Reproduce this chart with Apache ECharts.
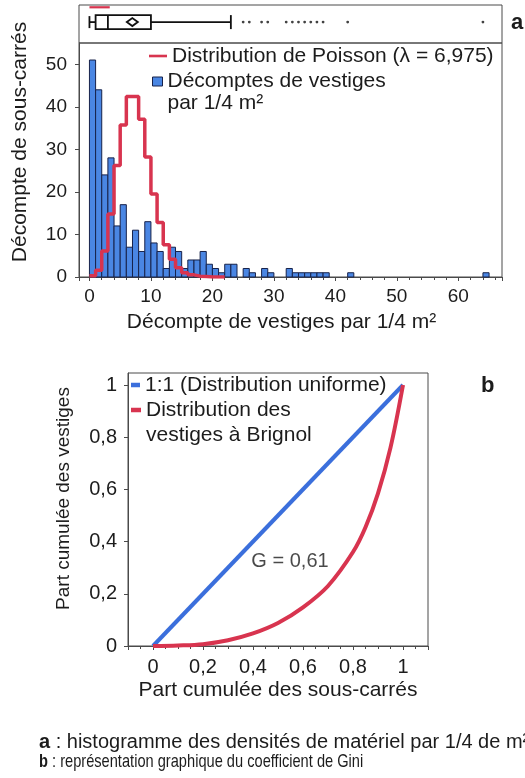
<!DOCTYPE html>
<html><head><meta charset="utf-8">
<script src="https://cdn.jsdelivr.net/npm/echarts@6/dist/echarts.min.js"></script>
<style>html,body{margin:0;padding:0;background:#fff}#c{width:525px;height:778px}</style>
</head><body><div id="c"></div>
<script>
// ---------- DATA ----------
// Histogram: number of vestiges per 1/4 m² (bin start) and number of sous-carrés
const histValues = [0,1,2,3,4,5,6,7,8,9,10,11,12,13,14,15,16,17,18,19,20,21,22,23,25,26,28,29,32,33,34,35,36,37,38,42,64];
const histCounts = [51,44,24,28,12,17,7,11,6,13,8,6,2,7,6,2,4,4,6,3,2,1,3,3,2,1,2,1,2,1,1,1,1,1,1,1,1];
// Poisson distribution (lambda = 6,975) expected counts
const poissonK = [0,1,2,3,4,5,6,7,8,9,10,11,12,13,14,15,16,17,18,19,20,21];
const poissonCounts = [0.3,1.6,6.1,14.8,26.2,35.7,42.4,42.4,37.1,28.2,19.5,12.8,7.6,4.2,2.2,1.0,0.5,0.2,0.1,0,0,0];
// Box plot summary: min, Q1, median, Q3, upper whisker
const boxStats = [0,1,3,10,23];
const meanValue = 6.975;
const outliers = [25,26,28,29,32,33,34,35,36,37,38,42,64];
const shortestHalf = [0,3.3];
// Lorenz curve (Gini)
const lorenzX = [0,0.1,0.2,0.3,0.4,0.5,0.6,0.7,0.8,0.85,0.9,0.95,1];
const lorenzY = [0,0.002,0.007,0.022,0.048,0.088,0.148,0.23,0.36,0.455,0.585,0.76,1];
const uniformX = [0,1];
const uniformY = [0,1];
const giniText = 'G = 0,61';
const giniPos = [0.548, 0.323];
// Tick labels
const histXTicks = [0,10,20,30,40,50,60];
const histYTicks = [0,10,20,30,40,50];
// Names / texts
const poissonName = 'Distribution de Poisson (λ = 6,975)';
const barName = 'Décomptes de vestiges\npar 1/4 m²';
const uniName = '1:1 (Distribution uniforme)';
const lorName = 'Distribution des\nvestiges à Brignol';
const captionA = ' : histogramme des densités de matériel par 1/4 de m²';
const captionB = ' : représentation graphique du coefficient de Gini';

// ---------- STYLE ----------
const FONT = "'Liberation Sans', Arial, sans-serif";
const TXT = '#1c1c1c';
const AX = '#4a4a4a';
const RED = '#d8344f';
const BLUE = '#4a86e3';
const EDGE = '#17224a';
const LBLUE = '#3b6fdc';
const FT = 21;   // titles / legends
const FH = 19;   // histogram ticks
const FL = 20;   // lorenz ticks

const chart = echarts.init(document.getElementById('c'), null, {renderer: 'canvas'});

const poissonData = poissonK.map((k, i) => [k, poissonCounts[i]]);
poissonData.push([poissonK[poissonK.length - 1] + 1, poissonCounts[poissonCounts.length - 1]]);
const histData = histValues.map((v, i) => [v, histCounts[i]]);
const lorenzData = lorenzX.map((x, i) => [x, lorenzY[i]]);
const uniformData = uniformX.map((x, i) => [x, uniformY[i]]);
const commaFmt = v => String(+(+v).toFixed(2)).replace('.', ',');

const BOXY = 0.55;

const option = {
  animation: false,
  backgroundColor: '#fff',
  textStyle: {fontFamily: FONT},
  grid: [
    {left: 79, top: 5, width: 423, height: 38, show: true, borderColor: AX, borderWidth: 1},
    {left: 79, top: 43, width: 423, height: 234, show: true, borderColor: AX, borderWidth: 1},
    {left: 128, top: 373, width: 300, height: 273, show: true, borderColor: AX, borderWidth: 1}
  ],
  xAxis: [
    {gridIndex: 0, type: 'value', min: -1.7, max: 67.1, show: false},
    {gridIndex: 1, type: 'value', min: -1.7, max: 67.1,
      name: 'Décompte de vestiges par 1/4 m²', nameLocation: 'middle', nameGap: 35,
      nameTextStyle: {fontSize: FT, color: TXT, padding: [0, 18, 0, 0]},
      axisLine: {onZero: false, lineStyle: {color: AX}},
      axisTick: {length: 4, lineStyle: {color: AX}},
      minorTick: {show: true, splitNumber: 5, length: 3, lineStyle: {color: AX}},
      splitLine: {show: false},
      axisLabel: {fontSize: FH, color: TXT, margin: 10, showMinLabel: false, showMaxLabel: false,
        formatter: v => histXTicks.indexOf(Math.round(v * 1000) / 1000) >= 0 ? String(Math.round(v)) : ''}
    },
    {gridIndex: 2, type: 'value', min: -0.1, max: 1.1,
      name: 'Part cumulée des sous-carrés', nameLocation: 'middle', nameGap: 34,
      nameTextStyle: {fontSize: FT, color: TXT},
      axisLine: {onZero: false, lineStyle: {color: AX}},
      axisTick: {length: 4, lineStyle: {color: AX}},
      minorTick: {show: true, splitNumber: 4, length: 3, lineStyle: {color: AX}},
      splitLine: {show: false},
      axisLabel: {fontSize: FL, color: TXT, margin: 11, showMinLabel: false, showMaxLabel: false, formatter: commaFmt}
    }
  ],
  yAxis: [
    {gridIndex: 0, type: 'value', min: 0, max: 1, show: false},
    {gridIndex: 1, type: 'value', min: 0, max: 55, interval: 10,
      name: 'Décompte de sous-carrés', nameLocation: 'middle', nameGap: 48, nameRotate: 90,
      nameTextStyle: {fontSize: FT, color: TXT, padding: [0, 0, 0, 36]},
      axisLine: {show: true, onZero: false, lineStyle: {color: AX}},
      axisTick: {show: true, length: 4, lineStyle: {color: AX}},
      splitLine: {show: false},
      axisLabel: {fontSize: FH, color: TXT, margin: 12, showMaxLabel: false,
        formatter: v => histYTicks.indexOf(v) >= 0 ? String(v) : ''}
    },
    {gridIndex: 2, type: 'value', min: 0, max: 1.046, interval: 0.2,
      name: 'Part cumulée des vestiges', nameLocation: 'middle', nameGap: 55, nameRotate: 90,
      nameTextStyle: {fontSize: 19, color: TXT, padding: [0, 0, 0, 22]},
      axisLine: {show: true, onZero: false, lineStyle: {color: AX}},
      axisTick: {show: true, length: 4, lineStyle: {color: AX}},
      splitLine: {show: false},
      axisLabel: {fontSize: FL, color: TXT, margin: 11, showMaxLabel: false, formatter: commaFmt}
    }
  ],
  legend: [
    {left: 149, top: 45, padding: 0, itemWidth: 18, itemHeight: 10, selectedMode: false,
      textStyle: {fontSize: FT, color: TXT, lineHeight: 22},
      data: [{name: poissonName, icon: 'path://M0,0H18V2.6H0Z'}]},
    {left: 152, top: 70, padding: 0, itemWidth: 10, itemHeight: 44, selectedMode: false,
      textStyle: {fontSize: FT, color: TXT, lineHeight: 22},
      data: [{name: barName, icon: 'path://M0,0h0.01M0,6.5h10v9h-10zM0,44h0.01',
        itemStyle: {color: BLUE, borderColor: EDGE, borderWidth: 1}}]},
    {left: 131, top: 374, padding: 0, itemWidth: 9, itemHeight: 10, selectedMode: false,
      textStyle: {fontSize: FT, color: TXT, lineHeight: 22},
      data: [{name: uniName, icon: 'path://M0,0H9V4.5H0Z'}]},
    {left: 131, top: 397.5, padding: 0, itemWidth: 10, itemHeight: 50, selectedMode: false,
      textStyle: {fontSize: FT, color: TXT, lineHeight: 25},
      data: [{name: lorName, icon: 'path://M0,0h0.01M0,10.25h10v4.5h-10zM0,50h0.01'}]}
  ],
  series: [
    {
      name: barName, type: 'custom', xAxisIndex: 1, yAxisIndex: 1,
      itemStyle: {color: BLUE, borderColor: EDGE, borderWidth: 1},
      encode: {x: 0, y: 1},
      data: histData,
      renderItem: (params, api) => {
        const k = api.value(0), c = api.value(1);
        const p1 = api.coord([k, c]);
        const p2 = api.coord([k + 1, 0]);
        return {type: 'rect', shape: {x: p1[0], y: p1[1], width: p2[0] - p1[0], height: p2[1] - p1[1]},
          style: {fill: BLUE, stroke: EDGE, lineWidth: 1}};
      },
      z: 2
    },
    {
      name: poissonName, type: 'line', xAxisIndex: 1, yAxisIndex: 1,
      step: 'end', showSymbol: false, data: poissonData,
      lineStyle: {color: RED, width: 3.5}, itemStyle: {color: RED}, z: 3
    },
    {
      name: 'box', type: 'custom', xAxisIndex: 0, yAxisIndex: 0,
      data: [boxStats], encode: {x: [0, 1, 2, 3, 4]},
      renderItem: (params, api) => {
        const vals = [0, 1, 2, 3, 4].map(i => api.value(i));
        const X = v => api.coord([v, BOXY])[0];
        const cy = api.coord([0, BOXY])[1];
        const hy = api.coord([0, 0.94])[1];
        const bh = 14, ch = 12;
        const ls = {stroke: '#111', lineWidth: 1.8, fill: null};
        const mx = X(meanValue);
        return {type: 'group', children: [
          {type: 'line', shape: {x1: X(shortestHalf[0]), y1: hy, x2: X(shortestHalf[1]), y2: hy}, style: {stroke: RED, lineWidth: 2.2}},
          {type: 'line', shape: {x1: X(vals[0]), y1: cy, x2: X(vals[1]), y2: cy}, style: ls},
          {type: 'line', shape: {x1: X(vals[0]), y1: cy - ch / 2, x2: X(vals[0]), y2: cy + ch / 2}, style: ls},
          {type: 'line', shape: {x1: X(vals[3]), y1: cy, x2: X(vals[4]), y2: cy}, style: ls},
          {type: 'line', shape: {x1: X(vals[4]), y1: cy - bh / 2, x2: X(vals[4]), y2: cy + bh / 2}, style: ls},
          {type: 'rect', shape: {x: X(vals[1]), y: cy - bh / 2, width: X(vals[3]) - X(vals[1]), height: bh}, style: {stroke: '#111', lineWidth: 1.8, fill: '#fff'}},
          {type: 'line', shape: {x1: X(vals[2]), y1: cy - bh / 2, x2: X(vals[2]), y2: cy + bh / 2}, style: ls},
          {type: 'polygon', shape: {points: [[mx - 5.5, cy], [mx, cy - 4], [mx + 5.5, cy], [mx, cy + 4]]}, style: {stroke: '#111', lineWidth: 1.8, fill: '#fff'}}
        ]};
      }
    },
    {
      name: 'outliers', type: 'scatter', xAxisIndex: 0, yAxisIndex: 0,
      symbol: 'circle', symbolSize: 2.8, itemStyle: {color: '#111'},
      data: outliers.map(v => [v, BOXY])
    },
    {
      name: uniName, type: 'line', xAxisIndex: 2, yAxisIndex: 2, showSymbol: false,
      data: uniformData, lineStyle: {color: LBLUE, width: 4}, itemStyle: {color: LBLUE}
    },
    {
      name: lorName, type: 'line', xAxisIndex: 2, yAxisIndex: 2, showSymbol: false, smooth: 0.35,
      data: lorenzData, lineStyle: {color: RED, width: 4}, itemStyle: {color: RED}
    },
    {
      name: 'gini', type: 'scatter', xAxisIndex: 2, yAxisIndex: 2, symbolSize: 0,
      data: [giniPos],
      label: {show: true, position: 'inside', formatter: giniText, fontSize: 20, color: TXT}
    }
  ],
  graphic: [
    {type: 'text', left: 511, top: 12, style: {text: 'a', font: 'bold 22px ' + FONT, fill: TXT}},
    {type: 'text', left: 481, top: 375, style: {text: 'b', font: 'bold 22px ' + FONT, fill: TXT}},
    {type: 'text', x: 39, y: 742, style: {
      text: '{b|a}' + captionA, font: '20px ' + FONT, fill: TXT, verticalAlign: 'middle',
      rich: {b: {fontWeight: 'bold', fontSize: 20, fontFamily: FONT, fill: TXT}}
    }},
    {type: 'text', x: 39, y: 762, scaleX: 0.77, style: {
      text: '{b|b}' + captionB, font: '19px ' + FONT, fill: TXT, verticalAlign: 'middle',
      rich: {b: {fontWeight: 'bold', fontSize: 19, fontFamily: FONT, fill: TXT}}
    }}
  ]
};
chart.setOption(option);
</script>
</body></html>
